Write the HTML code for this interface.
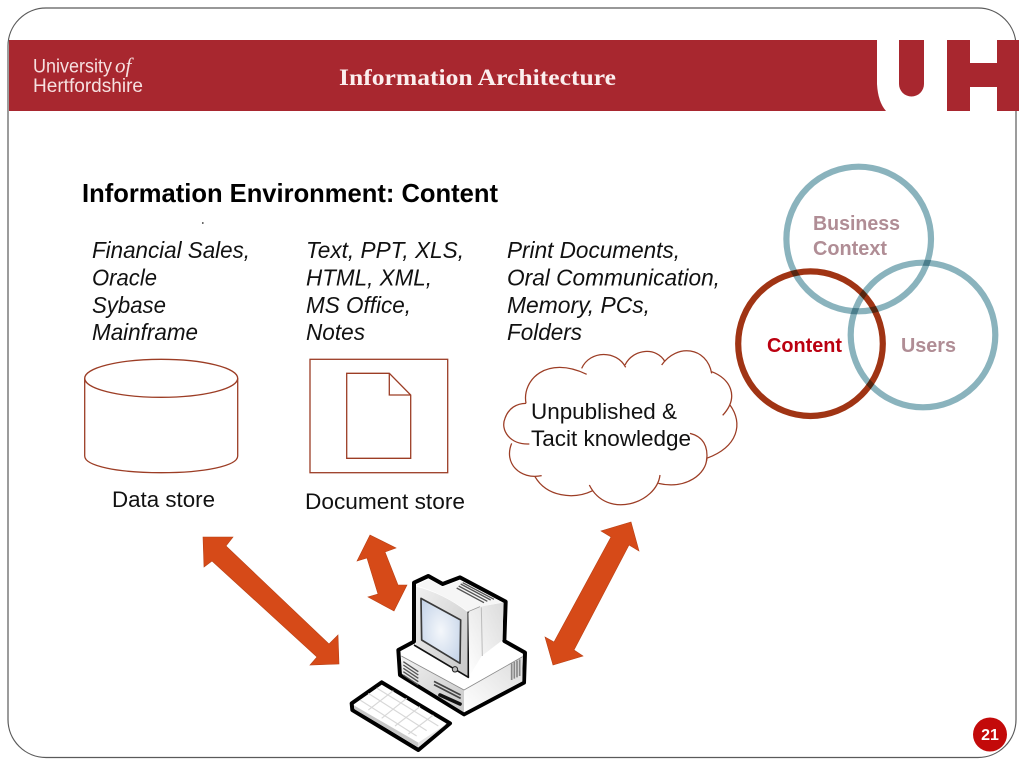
<!DOCTYPE html>
<html><head><meta charset="utf-8"><style>
html,body{margin:0;padding:0;background:#fff}
svg{display:block}
text{font-family:"Liberation Sans",sans-serif}
</style></head><body>
<svg width="1024" height="768" viewBox="0 0 1024 768" xmlns="http://www.w3.org/2000/svg">
<defs>
<radialGradient id="scr" cx=".5" cy=".5" r=".65"><stop offset="0" stop-color="#f4f7fb"/><stop offset="1" stop-color="#c4d3e8"/></radialGradient>
<linearGradient id="lf" x1="0" y1="0" x2="1" y2="1"><stop offset="0" stop-color="#f2f2f2"/><stop offset="1" stop-color="#c8c8c8"/></linearGradient>
<linearGradient id="rt" x1="0" y1="1" x2="1" y2="0"><stop offset="0" stop-color="#fff"/><stop offset="1" stop-color="#dcdcdc"/></linearGradient>
<linearGradient id="bz" x1="0" y1="0" x2="1" y2="1"><stop offset="0" stop-color="#f0f0f0"/><stop offset="1" stop-color="#c8c8c8"/></linearGradient>
</defs>
<rect width="1024" height="768" fill="#fff"/>
<rect x="8" y="8" width="1008" height="749.5" rx="38" ry="38" fill="#fff" stroke="#5a5a5a" stroke-width="1.2"/>
<!-- banner -->
<rect x="9" y="40" width="1010" height="71" fill="#a8272f"/>
<path d="M877,40 V84 Q878,102 886,111 H947 V40 Z" fill="#fff"/>
<path d="M899,40 H924 V84 A12.5,12.5 0 0 1 899,84 Z" fill="#a8272f"/>
<rect x="970" y="40" width="27" height="23" fill="#fff"/>
<rect x="970" y="87" width="27" height="24" fill="#fff"/>
<text x="33" y="72.5" font-size="19.5" fill="#f6e0e0" textLength="79" lengthAdjust="spacingAndGlyphs">University</text>
<text x="115" y="72.5" font-size="21" font-style="italic" style="font-family:'Liberation Serif',serif" fill="#f6e0e0">of</text>
<text x="33" y="92" font-size="19.5" fill="#f6e0e0" textLength="110" lengthAdjust="spacingAndGlyphs">Hertfordshire</text>
<text x="339" y="85" font-size="23" font-weight="bold" style="font-family:'Liberation Serif',serif" fill="#fbeeee" textLength="277" lengthAdjust="spacingAndGlyphs">Information Architecture</text>
<!-- heading -->
<text x="82" y="202" font-size="26" font-weight="bold" fill="#000" textLength="416" lengthAdjust="spacingAndGlyphs">Information Environment: Content</text>
<circle cx="202.8" cy="223" r=".9" fill="#333"/>
<!-- lists -->
<g font-size="22.8" font-style="italic" fill="#111">
<text x="92" y="258" textLength="158" lengthAdjust="spacingAndGlyphs">Financial Sales,</text>
<text x="92" y="285.5" textLength="65" lengthAdjust="spacingAndGlyphs">Oracle</text>
<text x="92" y="313" textLength="74" lengthAdjust="spacingAndGlyphs">Sybase</text>
<text x="92" y="340" textLength="106" lengthAdjust="spacingAndGlyphs">Mainframe</text>
<text x="306" y="258" textLength="158" lengthAdjust="spacingAndGlyphs">Text, PPT, XLS,</text>
<text x="306" y="285.5" textLength="126" lengthAdjust="spacingAndGlyphs">HTML, XML,</text>
<text x="306" y="313" textLength="105" lengthAdjust="spacingAndGlyphs">MS Office,</text>
<text x="306" y="340" textLength="59" lengthAdjust="spacingAndGlyphs">Notes</text>
<text x="507" y="258" textLength="173" lengthAdjust="spacingAndGlyphs">Print Documents,</text>
<text x="507" y="285.5" textLength="213" lengthAdjust="spacingAndGlyphs">Oral Communication,</text>
<text x="507" y="313" textLength="143" lengthAdjust="spacingAndGlyphs">Memory, PCs,</text>
<text x="507" y="340" textLength="75" lengthAdjust="spacingAndGlyphs">Folders</text>
</g>
<!-- cylinder and doc -->
<g fill="none" stroke="#9c3d25" stroke-width="1.3">
<ellipse cx="161.2" cy="378.3" rx="76.5" ry="19"/>
<path d="M84.7,378.3 V456 C84.7,466 118,472.7 161.2,472.7 C204,472.7 237.7,466 237.7,456 V378.3"/>
<rect x="310" y="359.3" width="137.7" height="113.4"/>
<path d="M346.7,373.3 H389.3 L410.7,395 V458.3 H346.7 Z M389.3,373.3 V395 H410.7"/>
</g>
<text x="112" y="507" font-size="22" fill="#111" textLength="103" lengthAdjust="spacingAndGlyphs">Data store</text>
<text x="305" y="509" font-size="22.5" fill="#111" textLength="160" lengthAdjust="spacingAndGlyphs">Document store</text>
<!-- cloud -->
<g transform="translate(490,340) scale(.33333)" fill="none" stroke="#9c3d25" stroke-width="3.8">
<path fill="#fff" stroke="none" d="M108,190 C95,120 170,45 285,100 C300,30 380,30 405,80 C430,25 500,20 520,70 C560,10 650,20 665,100 C720,115 745,170 715,195 C760,250 745,320 650,355 C650,400 590,450 508,430 C500,490 350,540 300,440 C250,480 170,470 138,410 C90,420 40,370 65,312 C30,280 30,205 108,190 Z"/>
<path d="M108,190 C95,120 170,45 290,103"/>
<path d="M275,85 C300,30 380,30 407,82"/>
<path d="M405,75 C430,25 500,20 525,65"/>
<path d="M515,75 C560,10 650,20 665,100"/>
<path d="M665,95 C720,115 750,170 698,226"/>
<path d="M720,195 C760,250 745,320 650,355"/>
<path d="M600,280 C640,290 655,320 650,362"/>
<path d="M650,355 C650,400 590,450 505,430"/>
<path d="M510,405 C500,490 350,540 298,435"/>
<path d="M308,452 C250,480 170,470 135,410"/>
<path d="M155,407 C90,420 40,370 65,310"/>
<path d="M118,312 C60,315 30,270 45,235 C55,205 80,190 108,190"/>
</g>
<text x="531" y="419" font-size="22.4" fill="#111" textLength="146" lengthAdjust="spacingAndGlyphs">Unpublished &amp;</text>
<text x="531" y="446" font-size="22.4" fill="#111" textLength="160" lengthAdjust="spacingAndGlyphs">Tacit knowledge</text>
<!-- venn -->
<g fill="none" stroke-width="6.2" style="isolation:isolate">
<circle cx="858.7" cy="239" r="72.3" stroke="#8ab3bd" style="mix-blend-mode:multiply"/>
<circle cx="923" cy="335" r="72.3" stroke="#8ab3bd" style="mix-blend-mode:multiply"/>
<circle cx="810.5" cy="343.7" r="72.3" stroke="#a03414" style="mix-blend-mode:multiply"/>
</g>
<g font-weight="bold" font-size="20">
<text x="813" y="230" fill="#b08d95" textLength="87" lengthAdjust="spacingAndGlyphs">Business</text>
<text x="813" y="255" fill="#b08d95" textLength="74" lengthAdjust="spacingAndGlyphs">Context</text>
<text x="767" y="352" fill="#bb0010" textLength="75" lengthAdjust="spacingAndGlyphs">Content</text>
<text x="901" y="352" fill="#b08d95" textLength="55" lengthAdjust="spacingAndGlyphs">Users</text>
</g>
<!-- arrows -->
<g fill="#d64a18" stroke="#b84015" stroke-width=".6">
<polygon points="203,537 233,537 226,546 329,644 338,635 339,664 310,665 317,657 212,561 204,567"/>
<polygon points="370,535 396,548 385,552 398,585 407,585 394,611 368,597 378,594 367,558 357,561"/>
<polygon points="631,522 639,551 629,545 574,650 583,656 553,665 545,637 554,642 611,537 601,531"/>
</g>
<!-- computer -->
<g transform="translate(340,560) scale(.33333)" stroke-linejoin="round">
<path d="M222,68 L265,48 L308,72 L360,52 L497,125 L493,243 L555,278 L552,368 L372,463 L180,345 L175,270 L222,245 Z" fill="#fff" stroke="#000" stroke-width="12"/>
<path d="M184,288 L372,390 L372,457 L186,342 Z" fill="url(#lf)"/>
<path d="M372,390 L548,290 L547,364 L372,457 Z" fill="url(#rt)"/>
<path d="M184,288 L372,390 L548,290" fill="none" stroke="#8a8a8a" stroke-width="2.5"/>
<path d="M228,80 Q310,100 385,158 L385,350 L228,255 Z" fill="url(#bz)"/>
<path d="M222,255 L385,352 L385,155" fill="none" stroke="#111" stroke-width="5"/>
<path d="M385,158 L420,140 L490,128 L488,240 L425,288 L388,348 Z" fill="url(#rt)"/>
<path d="M228,76 L265,58 L308,80 L360,62 L488,127 L420,140 L385,155 Q310,100 228,76 Z" fill="#f6f6f6"/>
<path d="M385,155 L420,140" fill="none" stroke="#999" stroke-width="2.5"/>
<path d="M424,142 L427,288" stroke="#bbb" stroke-width="3"/>
<path d="M243,115 L362,180 L360,310 L245,240 Z" fill="url(#scr)" stroke="#3a3a3a" stroke-width="5"/>
<circle cx="345" cy="328" r="8" fill="#bbb" stroke="#222" stroke-width="3"/>
<g stroke="#555" stroke-width="4" fill="none">
<path d="M350,84 L432,128 M356,78 L442,124 M362,72 L452,120 M368,68 L462,118"/>
<path d="M190,305 L235,335 M190,315 L235,345 M190,325 L235,355 M190,335 L235,365 M190,345 L235,375"/>
<path stroke="#888" stroke-width="5" d="M515,310 V360 M523,306 V356 M531,302 V352 M539,298 V348"/>
<path stroke="#444" stroke-width="5" d="M282,364 L362,405 M282,374 L362,415"/>
</g>
<path d="M300,405 L360,432" stroke="#111" stroke-width="11" stroke-linecap="round"/>
<path d="M35,430 L125,367 L330,490 L235,570 L37,450 Z" fill="#fff" stroke="#000" stroke-width="12"/>
<path d="M42,436 L235,548 L235,562 L44,448 Z" fill="#c8c8c8"/>
<path d="M235,548 L322,490 L235,562 Z" fill="#e4e4e4"/>
<g stroke="#d8d8d8" stroke-width="3.5" fill="none">
<path d="M85,400 L260,512 M110,384 L295,498 M60,420 L230,528"/>
<path d="M85,450 L160,392 M125,475 L200,415 M165,498 L240,440 M205,522 L280,465"/>
</g>
</g>
<!-- page number -->
<circle cx="990" cy="734.5" r="17" fill="#c30a0a"/>
<text x="990" y="740" font-size="16" font-weight="bold" fill="#fff" text-anchor="middle">21</text>
</svg>
</body></html>
